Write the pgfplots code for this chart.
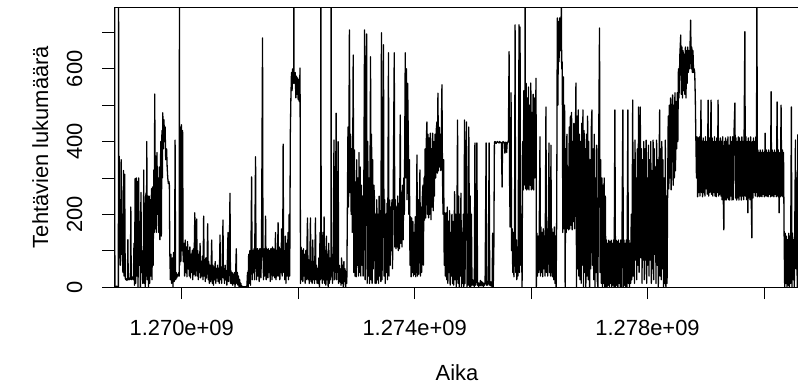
\documentclass[border=0pt]{standalone}
\usepackage{fontspec}
\setmainfont{Liberation Sans}
\usepackage{pgfplots}
\pgfplotsset{compat=1.18}
% x values: time in kiloseconds after 1.268e9 s (tick labels show the full time)
\begin{document}
\begin{tikzpicture}
\begin{axis}[
  scale only axis, width=686bp, height=280bp,
  xmin=837, xmax=12618, ymin=0, ymax=770,
  scaled x ticks=false, scaled y ticks=false,
  axis line style={line width=0.8bp},
  tick style={black, line width=0.8bp},
  tick align=outside, tick pos=left, major tick length=12bp,
  xtick={2000,4000,6000,8000,10000,12000},
  xticklabels={1.270e+09,,1.274e+09,,1.278e+09,},
  ytick={0,100,200,300,400,500,600,700},
  yticklabels={0,,200,,400,,600,},
  every tick label/.append style={font=\fontsize{22}{22}\selectfont, inner sep=0pt},
  xticklabel style={anchor=base},
  xticklabel shift=36bp,
  yticklabel style={rotate=90, anchor=base},
  yticklabel shift=20bp,
  xlabel={Aika},
  xlabel style={at={(axis description cs:0.5,0)}, anchor=base, yshift=-93bp, inner sep=0pt, font=\fontsize{22}{22}\selectfont},
  ylabel={Tehtävien lukumäärä},
  ylabel style={at={(axis description cs:-0.0962,0.5)}, anchor=base, inner sep=0pt, font=\fontsize{22}{22}\selectfont},
]
\addplot[black, line width=1.3bp, line join=round, mark=none] coordinates {
(848,900)(852,0)(880,2)(912,0)(915,900)(920,60)(925,360)(932,100)
(940,240)(950,60)(960,350)(970,90)(980,200)(990,40)(1000,320)(1010,30)(1020,310)(1030,25)
(1040,20)(1050,22)(1060,18)(1068,25)(1075,130)(1082,20)(1090,25)(1100,20)(1110,24)(1118,22)(1126,220)(1133,20)
(1140,25)(1150,22)(1160,28)(1170,20)(1180,120)(1190,5)(1200,298)(1210,10)(1220,300)(1230,30)
(1240,290)(1250,0)(1260,300)(1270,60)(1280,180)(1290,0)(1300,260)(1310,40)(1320,100)(1330,10)
(1340,20)(1348,322)(1355,10)(1365,230)(1375,0)(1385,258)(1393,30)(1400,400)(1410,20)(1420,250)(1430,0)
(1440,250)(1450,10)(1460,240)(1470,30)(1480,270)(1490,20)(1500,275)(1510,60)(1520,322)(1528,150)
(1537,531)(1545,160)(1555,360)(1565,150)(1575,370)(1585,200)(1595,300)(1605,150)(1615,330)(1625,130)
(1640,400)(1650,140)(1660,430)(1668,300)(1675,479)(1685,380)(1695,460)(1705,400)(1715,440)(1725,350)
(1740,380)(1750,330)(1760,300)(1770,285)(1780,290)(1788,280)(1795,100)(1805,20)(1815,90)(1825,10)
(1840,80)(1850,0)(1860,95)(1870,15)(1878,60)(1886,404)(1895,20)(1905,40)(1915,25)(1925,35)
(1940,30)(1950,40)(1958,30)(1961,900)(1965,60)(1975,440)(1985,70)(1995,446)(2005,100)(2015,430)(2025,70)
(2040,120)(2050,30)(2060,129)(2070,40)(2080,110)(2090,28)(2100,125)(2110,50)(2120,100)(2130,30)
(2140,110)(2150,25)(2160,90)(2170,40)(2180,100)(2190,20)(2200,105)(2210,35)(2225,204)(2232,30)
(2240,80)(2257,187)(2265,30)(2275,100)(2285,20)(2295,90)(2305,40)(2315,120)(2325,25)(2335,70)
(2345,30)(2355,85)(2365,20)(2377,195)(2385,30)(2395,75)(2405,15)(2415,80)(2425,25)(2435,65)
(2446,174)(2455,20)(2465,70)(2475,10)(2485,60)(2495,15)(2505,50)(2515,129)(2525,10)
(2535,60)(2545,5)(2555,55)(2565,20)(2575,70)(2585,10)(2595,50)(2605,25)(2615,60)(2625,15)
(2635,50)(2645,10)(2658,143)(2665,20)(2675,55)(2685,10)(2695,60)(2709,184)(2715,25)(2725,50)
(2735,10)(2745,60)(2755,20)(2765,45)(2775,5)(2795,150)(2805,15)(2815,50)(2829,258)(2837,10)
(2845,45)(2855,10)(2865,40)(2875,5)(2885,35)(2895,10)(2905,40)(2915,0)(2925,30)
(2937,105)(2945,10)(2955,40)(2965,5)(2975,30)(2985,0)(2995,20)(3005,0)(3015,10)(3025,0)
(3040,2)(3060,0)(3080,1)(3100,0)(3120,3)(3130,40)
(3140,0)(3150,90)(3160,10)(3170,100)(3180,5)(3190,110)(3200,303)(3210,20)(3220,100)(3230,40)
(3240,105)(3250,20)(3268,358)(3275,105)(3285,20)(3295,105)(3305,105)(3310,30)(3320,100)(3330,15)
(3340,105)(3350,105)(3360,25)(3370,100)(3388,685)(3395,100)(3405,20)(3415,105)(3425,30)
(3435,105)(3440,195)(3450,20)(3460,105)(3470,100)(3480,25)(3490,105)(3500,40)(3510,100)(3520,15)(3530,105)
(3540,105)(3550,20)(3560,110)(3570,30)(3580,105)(3590,100)(3600,25)(3610,150)(3620,20)(3630,100)
(3640,30)(3655,177)(3665,30)(3675,110)(3685,20)(3695,105)(3705,40)(3715,160)(3725,30)(3735,110)
(3742,393)(3750,40)(3760,100)(3770,20)(3780,140)(3790,10)(3800,120)(3810,30)(3826,150)(3835,20)
(3845,200)(3855,30)(3865,420)(3875,520)(3885,590)(3895,540)(3905,600)(3915,560)(3922,580)(3925,900)(3930,580)
(3940,560)(3950,590)(3960,520)(3970,580)(3980,530)(3990,575)(4000,515)(4010,570)(4020,510)(4032,602)
(4040,10)(4050,110)(4060,20)(4070,100)(4080,15)(4090,105)(4100,30)(4110,90)(4120,10)(4130,100)
(4140,20)(4160,190)(4170,20)(4180,75)(4190,10)(4200,60)(4211,190)(4220,15)(4230,70)
(4240,10)(4250,129)(4260,20)(4270,70)(4280,10)(4297,190)(4305,20)(4315,60)(4325,10)(4335,50)
(4345,10)(4355,80)(4365,0)(4375,150)(4385,20)(4391,900)(4395,30)(4405,120)(4415,10)(4425,150)
(4435,20)(4445,193)(4455,10)(4465,100)(4475,5)(4485,140)(4495,20)(4505,90)(4515,0)(4525,120)
(4535,10)(4545,80)(4555,20)(4563,40)(4566,900)(4570,30)(4580,90)(4590,10)(4600,70)(4615,404)(4625,20)
(4635,60)(4652,478)(4660,20)(4670,66)(4686,400)(4695,10)(4705,60)(4715,15)(4725,50)
(4735,5)(4745,80)(4755,10)(4765,60)(4775,0)(4785,70)(4795,15)(4805,50)(4815,0)(4825,40)
(4835,10)(4845,212)(4855,440)(4865,220)(4880,707)(4890,260)(4900,420)(4910,200)(4920,380)(4930,150)
(4945,638)(4955,40)(4965,377)(4975,30)(4985,289)(4995,28)(5005,350)(5015,60)(5025,300)
(5035,30)(5045,370)(5055,40)(5065,330)(5075,30)(5085,280)(5095,60)(5105,250)(5115,30)(5125,200)
(5140,707)(5150,20)(5160,440)(5175,696)(5185,10)(5195,400)(5205,30)(5215,300)(5225,10)(5243,633)
(5250,20)(5260,420)(5270,10)(5280,350)(5290,50)(5300,280)(5311,240)(5320,10)(5330,200)
(5340,10)(5350,240)(5360,20)(5370,200)(5380,10)(5390,250)(5400,30)(5410,210)(5420,15)(5430,699)
(5440,20)(5450,230)(5465,666)(5475,30)(5485,240)(5495,10)(5505,200)(5515,40)(5525,230)
(5535,20)(5551,644)(5560,30)(5570,239)(5580,60)(5590,220)(5600,100)(5610,240)(5620,50)(5630,210)
(5650,644)(5660,110)(5670,240)(5680,105)(5690,220)(5700,110)(5710,250)(5720,100)(5730,230)
(5740,105)(5753,473)(5763,120)(5773,260)(5783,110)(5793,280)(5803,130)(5813,300)(5823,200)(5839,644)
(5850,300)(5860,600)(5870,240)(5880,560)(5891,413)(5900,200)(5910,350)(5920,60)(5930,193)
(5940,28)(5950,190)(5960,40)(5970,180)(5980,30)(5990,150)(6000,35)(6010,193)(6020,28)(6030,160)
(6040,363)(6050,30)(6060,240)(6070,35)(6080,200)(6091,322)(6100,30)(6110,220)(6120,40)(6130,240)
(6143,280)(6150,60)(6160,300)(6170,184)(6180,380)(6190,190)(6200,400)(6211,454)(6220,200)(6230,420)
(6240,190)(6250,410)(6260,200)(6270,423)(6280,185)(6290,380)(6300,220)(6310,423)(6320,210)(6330,400)
(6340,250)(6350,420)(6360,300)(6370,430)(6383,454)(6390,313)(6400,533)(6410,320)(6420,440)(6430,330)
(6440,420)(6450,320)(6469,556)(6478,310)(6488,200)(6498,350)(6508,60)(6518,204)(6528,30)
(6540,204)(6550,20)(6560,220)(6570,10)(6580,180)(6590,40)(6600,210)(6610,5)(6620,150)(6630,30)
(6640,200)(6650,10)(6660,180)(6670,5)(6686,262)(6695,20)(6705,200)(6715,0)(6725,150)(6737,459)
(6745,10)(6755,250)(6765,0)(6775,200)(6785,30)(6795,258)(6805,0)(6815,150)(6825,10)
(6835,200)(6845,0)(6857,459)(6865,10)(6875,258)(6891,454)(6900,0)(6910,200)(6920,5)(6930,440)
(6945,0)(6955,250)(6965,0)(6975,200)(6985,5)(6995,20)(7005,5)(7015,15)(7025,0)(7035,396)
(7045,5)(7055,15)(7069,396)(7080,5)(7090,12)(7100,0)(7110,10)(7120,5)(7130,18)
(7140,3)(7150,15)(7160,5)(7170,12)(7180,0)(7190,10)(7200,5)(7210,12)(7228,396)(7235,5)
(7245,15)(7255,5)(7265,10)(7279,396)(7290,5)(7300,15)(7310,3)(7320,10)(7330,0)
(7340,148)(7350,0)(7360,100)(7370,398)(7380,400)(7390,398)(7400,395)(7410,398)(7420,400)(7430,398)
(7440,398)(7450,396)(7460,400)(7470,398)(7480,398)(7490,395)(7502,275)(7510,398)(7520,400)(7530,398)
(7540,398)(7550,368)(7560,398)(7570,398)(7580,370)(7590,398)(7600,398)(7610,400)(7622,647)(7630,300)
(7640,165)(7656,534)(7665,100)(7675,160)(7685,40)(7695,150)(7705,28)(7715,120)(7725,721)(7735,40)
(7745,130)(7755,20)(7765,100)(7775,30)(7793,721)(7800,40)(7810,715)(7820,60)(7830,200)
(7845,0)(7855,400)(7865,267)(7875,540)(7885,300)(7893,280)(7896,900)(7905,270)(7915,560)(7925,267)(7935,520)
(7945,270)(7955,550)(7965,267)(7975,500)(7985,280)(7995,561)(8005,267)(8015,480)(8025,270)(8035,530)
(8045,267)(8055,520)(8065,300)(8075,450)(8085,574)(8090,0)(8100,148)(8110,30)(8120,140)(8130,40)
(8140,160)(8153,413)(8160,30)(8170,165)(8180,40)(8190,150)(8200,28)(8210,160)(8220,50)(8230,140)
(8240,30)(8255,495)(8265,40)(8275,160)(8285,30)(8295,150)(8307,396)(8315,40)(8325,160)(8335,30)
(8341,390)(8350,40)(8360,160)(8370,28)(8380,150)(8390,20)(8400,165)(8410,10)(8420,140)(8430,0)
(8440,200)(8450,740)(8460,500)(8470,730)(8480,620)(8490,740)(8500,650)(8515,660)(8518,900)(8525,600)(8535,619)
(8545,150)(8555,578)(8565,160)(8575,500)(8585,0)(8595,380)(8605,150)(8615,420)(8625,160)(8635,330)
(8645,157)(8655,440)(8665,160)(8675,470)(8685,170)(8695,480)(8705,157)(8715,400)(8725,180)(8735,450)
(8745,160)(8770,561)(8780,0)(8790,470)(8800,50)(8810,487)(8820,30)(8830,420)
(8840,20)(8850,400)(8860,10)(8870,450)(8880,60)(8890,487)(8900,0)(8910,430)(8920,40)(8930,380)
(8940,0)(8950,420)(8960,30)(8970,470)(8980,20)(8990,400)(9005,0)(9015,350)(9025,50)(9035,440)
(9045,487)(9055,60)(9065,380)(9075,20)(9085,420)(9097,0)(9105,300)(9115,40)(9125,390)(9135,20)
(9148,0)(9160,380)(9175,712)(9185,40)(9195,350)(9205,10)(9215,300)(9225,0)(9235,280)
(9245,10)(9255,300)(9265,0)(9275,250)(9285,0)(9295,129)(9305,0)(9315,120)(9325,5)(9335,129)
(9345,0)(9355,125)(9365,10)(9375,129)(9385,0)(9395,120)(9405,5)(9415,129)(9425,0)(9439,487)
(9450,0)(9460,129)(9470,5)(9480,125)(9490,0)(9500,129)(9510,10)(9520,120)(9530,0)
(9540,129)(9550,0)(9560,125)(9576,487)(9585,0)(9595,129)(9605,5)(9615,120)(9625,0)
(9635,129)(9645,0)(9662,487)(9670,10)(9680,129)(9690,0)(9700,120)(9710,10)(9720,200)(9730,20)
(9745,514)(9755,30)(9765,350)(9775,10)(9785,404)(9795,74)(9805,300)(9815,20)(9825,380)(9835,60)
(9845,495)(9855,40)(9865,400)(9875,495)(9885,80)(9895,380)(9905,10)(9915,350)(9925,74)
(9935,400)(9945,20)(9955,380)(9965,74)(9975,404)(9985,10)(9995,300)(10005,60)(10015,390)(10025,30)
(10035,350)(10045,74)(10055,400)(10065,10)(10075,320)(10085,50)(10095,404)(10105,20)(10115,380)(10125,90)
(10135,330)(10145,10)(10155,404)(10165,60)(10175,350)(10185,0)(10195,300)(10208,487)(10215,30)(10225,380)
(10235,20)(10245,400)(10255,50)(10265,350)(10275,0)(10285,300)(10295,10)(10305,404)(10315,0)(10325,250)
(10335,10)(10345,267)(10355,470)(10365,270)(10375,500)(10385,300)(10395,520)(10405,267)(10415,480)(10430,528)
(10440,280)(10450,500)(10460,300)(10470,534)(10480,320)(10490,510)(10500,380)(10510,534)(10520,400)(10530,600)
(10540,520)(10555,640)(10570,693)(10580,530)(10590,660)(10600,520)(10610,650)(10620,540)(10630,640)
(10640,530)(10650,660)(10660,520)(10670,650)(10680,560)(10690,660)(10700,590)(10710,650)(10720,600)(10740,734)
(10750,600)(10760,660)(10770,590)(10780,650)(10790,590)(10800,600)(10810,589)(10820,520)(10830,404)
(10840,300)(10850,413)(10860,248)(10870,410)(10880,260)(10890,413)(10900,250)(10918,514)(10925,260)(10935,400)
(10945,248)(10955,410)(10965,260)(10975,400)(10985,250)(10995,413)(11005,270)(11015,400)(11025,255)(11040,514)
(11050,250)(11060,410)(11070,260)(11080,400)(11091,514)(11100,255)(11110,410)(11120,250)(11130,400)
(11140,260)(11150,413)(11160,250)(11170,400)(11180,248)(11190,410)(11200,260)(11211,514)(11220,250)(11230,400)
(11240,255)(11250,410)(11260,250)(11270,400)(11280,240)(11290,413)(11300,250)(11310,157)(11320,400)(11330,240)
(11340,410)(11350,239)(11360,400)(11370,245)(11380,413)(11390,240)(11400,390)(11410,239)(11420,413)(11430,250)
(11440,400)(11450,239)(11460,413)(11470,240)(11480,400)(11500,506)(11510,245)(11520,410)(11530,239)
(11540,400)(11550,245)(11560,413)(11570,239)(11580,410)(11590,250)(11600,400)(11610,239)(11620,413)(11630,250)
(11640,400)(11650,240)(11671,702)(11680,250)(11690,413)(11700,240)(11710,400)(11723,204)(11730,410)
(11740,245)(11750,400)(11760,240)(11770,413)(11780,250)(11791,135)(11800,400)(11810,245)(11820,410)(11830,260)
(11840,400)(11850,250)(11860,413)(11870,260)(11878,900)(11885,248)(11895,377)(11905,250)(11915,370)(11925,248)(11935,377)
(11945,250)(11955,370)(11965,248)(11975,377)(11985,255)(11995,370)(12005,248)(12019,423)(12030,250)
(12040,377)(12050,250)(12060,370)(12070,248)(12080,377)(12090,255)(12100,370)(12110,248)(12122,537)(12130,250)
(12140,377)(12150,250)(12160,370)(12170,248)(12180,377)(12190,255)(12200,370)(12210,248)(12225,509)(12235,250)
(12245,377)(12259,204)(12270,370)(12280,248)(12293,500)(12305,250)(12315,377)(12325,248)
(12335,370)(12345,150)(12355,0)(12365,148)(12375,10)(12385,140)(12395,0)(12405,130)(12415,5)(12425,148)
(12435,0)(12445,140)(12455,10)(12470,495)(12480,0)(12490,148)(12500,20)(12510,130)(12520,0)(12540,404)
(12550,50)(12560,300)(12570,0)(12580,420)
};
\end{axis}
\pgfresetboundingbox
\path[use as bounding box] (-114bp,-100bp) rectangle (684bp,287bp);
\end{tikzpicture}
\end{document}
